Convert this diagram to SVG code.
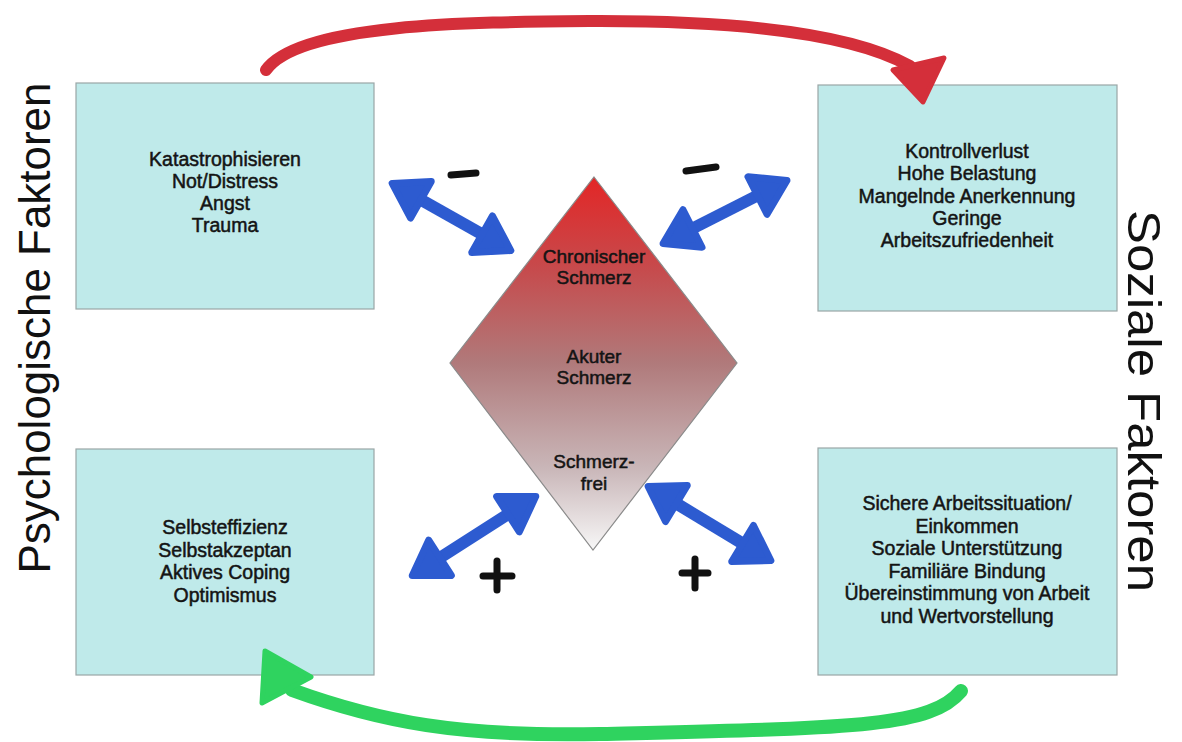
<svg xmlns="http://www.w3.org/2000/svg" width="1182" height="742" viewBox="0 0 1182 742">
  <defs>
    <linearGradient id="pain" x1="0" y1="0" x2="0" y2="1">
      <stop offset="0" stop-color="#e32626"/>
      <stop offset="0.25" stop-color="#c64b4d"/>
      <stop offset="0.5" stop-color="#b07a7b"/>
      <stop offset="0.78" stop-color="#c9b6b8"/>
      <stop offset="1" stop-color="#f7f7f7"/>
    </linearGradient>
    <marker id="bluehead" markerUnits="userSpaceOnUse" markerWidth="46" markerHeight="56" viewBox="-5 -28 46 56" refX="0" refY="0" orient="auto-start-reverse">
      <path d="M0,-21 L33,0 L0,21 Z" fill="#2d5bd0" stroke="#2d5bd0" stroke-width="7" stroke-linejoin="round"/>
    </marker>
    <style>
      .box { fill: #bfeaea; stroke: #9aa6a6; stroke-width: 1.2; }
      .txt { font-family: "Liberation Sans", Arial, sans-serif; font-size: 19.5px; fill: #141414; stroke: #141414; stroke-width: 0.5; text-anchor: middle; }
      .dtxt { font-family: "Liberation Sans", Arial, sans-serif; font-size: 19px; fill: #141414; stroke: #141414; stroke-width: 0.5; text-anchor: middle; }
      .side { font-family: "Liberation Sans", Arial, sans-serif; fill: #111; text-anchor: middle; }
      .blue { fill: none; stroke: #2d5bd0; stroke-width: 12; marker-start: url(#bluehead); marker-end: url(#bluehead); }
      .sign { fill: none; stroke: #111; stroke-width: 7; stroke-linecap: round; }
    </style>
  </defs>

  <rect width="1182" height="742" fill="#ffffff"/>

  <g id="label-psycho">
    <text class="side" font-size="44" transform="translate(50,328) rotate(-90)" textLength="491" lengthAdjust="spacingAndGlyphs">Psychologische Faktoren</text>
  </g>
  <g id="label-sozial">
    <text class="side" font-size="46" transform="translate(1128,401) rotate(90)" textLength="382" lengthAdjust="spacingAndGlyphs">Soziale Faktoren</text>
  </g>

  <g id="box-psych-neg">
    <rect class="box" x="76" y="83" width="298" height="226"/>
    <text class="txt" x="225" y="166">Katastrophisieren</text>
    <text class="txt" x="225" y="188">Not/Distress</text>
    <text class="txt" x="225" y="210">Angst</text>
    <text class="txt" x="225" y="232">Trauma</text>
  </g>

  <g id="box-social-neg">
    <rect class="box" x="818" y="85" width="299" height="226"/>
    <text class="txt" x="967" y="158">Kontrollverlust</text>
    <text class="txt" x="967" y="180">Hohe Belastung</text>
    <text class="txt" x="967" y="202.5">Mangelnde Anerkennung</text>
    <text class="txt" x="967" y="225">Geringe</text>
    <text class="txt" x="967" y="247">Arbeitszufriedenheit</text>
  </g>

  <g id="box-psych-pos">
    <rect class="box" x="76" y="449" width="298" height="226"/>
    <text class="txt" x="225" y="534">Selbsteffizienz</text>
    <text class="txt" x="225" y="556.5">Selbstakzeptan</text>
    <text class="txt" x="225" y="579">Aktives Coping</text>
    <text class="txt" x="225" y="601.5">Optimismus</text>
  </g>

  <g id="box-social-pos">
    <rect class="box" x="818" y="448" width="299" height="227"/>
    <text class="txt" x="967" y="510">Sichere Arbeitssituation/</text>
    <text class="txt" x="967" y="532.5">Einkommen</text>
    <text class="txt" x="967" y="555">Soziale Unterstützung</text>
    <text class="txt" x="967" y="577.5">Familiäre Bindung</text>
    <text class="txt" x="967" y="600">Übereinstimmung von Arbeit</text>
    <text class="txt" x="967" y="622.5">und Wertvorstellung</text>
  </g>

  <g id="pain-diamond">
    <polygon points="594,177 737,363 593,550 450,363" fill="url(#pain)" stroke="#8a8a8a" stroke-width="1.2"/>
    <text class="dtxt" x="594" y="263">Chronischer</text>
    <text class="dtxt" x="594" y="284">Schmerz</text>
    <text class="dtxt" x="594" y="363">Akuter</text>
    <text class="dtxt" x="594" y="384">Schmerz</text>
    <text class="dtxt" x="594" y="468">Schmerz-</text>
    <text class="dtxt" x="594" y="490">frei</text>
  </g>

  <g id="connectors">
    <path class="blue" d="M420.9,199.7 L482.1,234.3"/>
    <path class="blue" d="M757.5,195.5 L692.5,228.5"/>
    <path class="blue" d="M440,557.8 L508,514.2"/>
    <path class="blue" d="M676.4,503.5 L742.6,543.5"/>

    <path d="M266,70 C 300,22 480,22 600,21 C 760,21 860,38 910,66" fill="none" stroke="#d42f3a" stroke-width="12" stroke-linecap="round"/>
    <polygon points="893,70 944,58 923,102" fill="#d42f3a" stroke="#d42f3a" stroke-width="5" stroke-linejoin="round"/>

    <path d="M961,691 C 930,728 850,728 600,734 C 460,737 380,722 292,690" fill="none" stroke="#2fd35f" stroke-width="14" stroke-linecap="round"/>
    <polygon points="265,651 311,677 262,703" fill="#2fd35f" stroke="#2fd35f" stroke-width="5" stroke-linejoin="round"/>

    <path class="sign" d="M451,175 L476,173"/>
    <path class="sign" d="M686,171 L716,167"/>
    <path class="sign" d="M483,576 L512,576 M497,561 L497,590"/>
    <path class="sign" d="M682,573 L708,573 M695,559 L695,588"/>
  </g>
</svg>
